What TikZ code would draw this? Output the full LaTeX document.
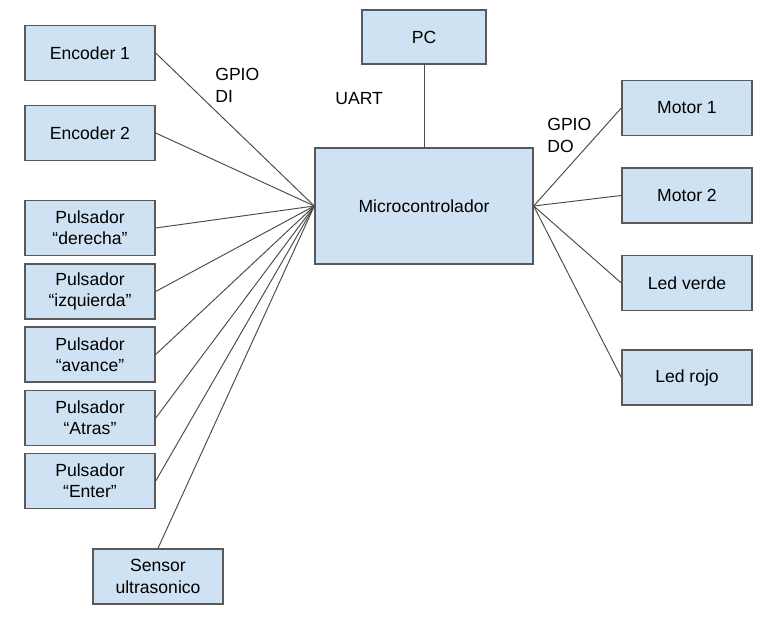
\documentclass[tikz,border=0pt]{standalone}
\usepackage{fontspec}
\setmainfont{Liberation Sans}
\usepackage{xcolor}
\usetikzlibrary{positioning,calc}
\definecolor{cajaazul}{HTML}{CFE2F3}
\definecolor{bordegris}{HTML}{595959}

\begin{document}
\begin{tikzpicture}[x=0.02cm, y=-0.02cm,
    bloque/.style={draw=bordegris, fill=cajaazul, line width=0.8pt, align=center,
                   minimum width=2.6cm, minimum height=1.1cm, inner sep=1pt,
                   font=\fontsize{10}{12}\selectfont},
    conexion/.style={draw=black!70, line width=0.55pt},
    etiqueta/.style={anchor=north west, align=left, inner sep=0pt,
                     font=\fontsize{10}{12.5}\selectfont}]
    \useasboundingbox (0,0) rectangle (769,617);

    % bloque central y PC
    \node[bloque, minimum width=4.36cm, minimum height=2.32cm] (micro) at (424,206) {Microcontrolador};
    \node[bloque, minimum width=2.48cm, minimum height=1.08cm] (pc) at (424,37) {PC};

    % entradas
    \node[bloque] (enc1) at (90,53) {Encoder 1};
    \node[bloque] (enc2) at (90,133) {Encoder 2};
    \node[bloque] (der) at (90,228) {Pulsador\\“derecha”};
    \node[bloque] (izq) at (90,291.5) {Pulsador\\“izquierda”};
    \node[bloque] (ava) at (90,354.5) {Pulsador\\“avance”};
    \node[bloque] (atr) at (90,418) {Pulsador\\“Atras”};
    \node[bloque] (ent) at (90,481) {Pulsador\\“Enter”};
    \node[bloque] (sens) at (158,576.5) {Sensor\\ultrasonico};

    % salidas
    \node[bloque] (mot1) at (687,108) {Motor 1};
    \node[bloque] (mot2) at (687,195.5) {Motor 2};
    \node[bloque] (verde) at (687,283) {Led verde};
    \node[bloque] (rojo) at (687,377.5) {Led rojo};

    % conexiones
    \foreach \n in {enc1,enc2,der,izq,ava,atr,ent}
        \draw[conexion] (\n.east) -- (micro.west);
    \draw[conexion] (sens.north) -- (micro.west);
    \foreach \n in {mot1,mot2,verde,rojo}
        \draw[conexion] (micro.east) -- (\n.west);
    \draw[conexion] (pc.south) -- (micro.north);

    % rótulos de las interfaces
    \node[etiqueta] (gpiodi) at (215,68) {GPIO\\DI};
    \node[etiqueta] (uart) at (335,92) {UART};
    \node[etiqueta] (gpiodo) at (547,118) {GPIO\\DO};
\end{tikzpicture}
\end{document}
